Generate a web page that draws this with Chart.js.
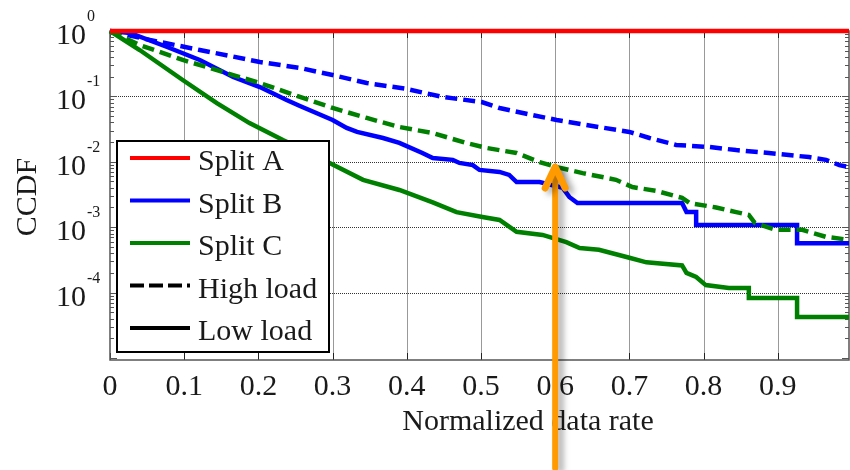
<!DOCTYPE html>
<html lang="en">
  <head>
    <meta charset="UTF-8" />
    <title>CCDF of normalized data rate</title>
    <style>
      body {
        margin: 0;
        background: #fff;
      }
      #grafico {
        display: block;
      }
    </style>
  </head>
  <body>
    <canvas id="grafico" width="850" height="470"></canvas>

    <script src="https://cdn.jsdelivr.net/npm/chart.js"></script>
    <script>
      // axis ticks
      const xTicks = [0, 0.1, 0.2, 0.3, 0.4, 0.5, 0.6, 0.7, 0.8, 0.9];
      const xTickLabels = ["0", "0.1", "0.2", "0.3", "0.4", "0.5", "0.6", "0.7", "0.8", "0.9"];
      const yExponents = [0, -1, -2, -3, -4];

      // Split A (both loads sit at 1)
      const splitAX = [0, 0.996];
      const splitAY = [1, 1];

      // Split B, high load (dashed)
      const splitBHighX = [0, 0.054, 0.121, 0.202, 0.256, 0.3, 0.346, 0.4, 0.448, 0.501, 0.525, 0.569, 0.602, 0.659, 0.7, 0.727, 0.763, 0.808, 0.844, 0.888, 0.942, 0.965, 0.983, 0.996];
      const splitBHighY = [1, 0.728, 0.513, 0.336, 0.272, 0.212, 0.16, 0.13, 0.098, 0.082, 0.0665, 0.052, 0.0436, 0.034, 0.0286, 0.0231, 0.0181, 0.0168, 0.0151, 0.0136, 0.0118, 0.0107, 0.0089, 0.0083];

      // Split B, low load (solid)
      const splitBLowX = [0, 0.027, 0.077, 0.121, 0.166, 0.202, 0.238, 0.256, 0.3, 0.319, 0.333, 0.368, 0.39, 0.421, 0.435, 0.462, 0.471, 0.489, 0.498, 0.525, 0.538, 0.548, 0.579, 0.61, 0.619, 0.63, 0.771, 0.777, 0.79, 0.79, 0.926, 0.926, 0.996];
      const splitBLowY = [1, 0.933, 0.569, 0.361, 0.198, 0.139, 0.088, 0.0713, 0.0436, 0.0329, 0.0286, 0.0231, 0.0194, 0.0136, 0.0114, 0.0107, 0.0096, 0.0089, 0.0075, 0.007, 0.0063, 0.0049, 0.0049, 0.004, 0.0029, 0.00234, 0.00234, 0.0017, 0.0017, 0.00108, 0.00108, 0.00057, 0.00057];

      // Split C, high load (dashed)
      const splitCHighX = [0, 0.04, 0.098, 0.166, 0.202, 0.256, 0.3, 0.346, 0.39, 0.435, 0.48, 0.507, 0.548, 0.579, 0.602, 0.637, 0.682, 0.704, 0.736, 0.771, 0.781, 0.817, 0.844, 0.861, 0.869, 0.897, 0.933, 0.965, 0.996];
      const splitCHighY = [1, 0.611, 0.361, 0.212, 0.16, 0.098, 0.0665, 0.0468, 0.034, 0.0275, 0.0194, 0.0163, 0.0136, 0.0099, 0.0083, 0.0067, 0.0053, 0.0041, 0.0036, 0.0028, 0.00234, 0.002, 0.0017, 0.00154, 0.00116, 0.00091, 0.00091, 0.00071, 0.00064];

      // Split C, low load (solid)
      const splitCLowX = [0, 0.04, 0.098, 0.144, 0.188, 0.233, 0.256, 0.296, 0.341, 0.39, 0.435, 0.467, 0.502, 0.525, 0.548, 0.583, 0.615, 0.633, 0.659, 0.7, 0.723, 0.771, 0.777, 0.79, 0.803, 0.834, 0.861, 0.861, 0.926, 0.926, 0.996];
      const splitCLowY = [1, 0.512, 0.178, 0.079, 0.039, 0.0215, 0.0163, 0.0096, 0.0053, 0.0037, 0.0024, 0.0017, 0.00143, 0.00129, 0.00085, 0.00076, 0.00059, 0.00048, 0.00045, 0.00034, 0.00029, 0.00026, 0.0002, 0.000173, 0.00013, 0.000117, 0.000117, 0.0000826, 0.0000826, 0.0000424, 0.0000424];

      // legend
      const legendLabels = ["Split A", "Split B", "Split C", "High load", "Low load"];
      const legendColors = ["#ff0000", "#0000ff", "#008000", "#000000", "#000000"];
      const legendDashed = [false, false, false, true, false];

      // arrow annotation (points at x = 0.6 on the Split C high load curve)
      const arrowX = 0.6;
      const arrowTipY = 0.0086;

      const serif = '"Liberation Serif", "DejaVu Serif", serif';

      function puntos(xs, ys) {
        return xs.map((v, i) => ({ x: v, y: ys[i] }));
      }

      function serie(label, xs, ys, color, dashed) {
        return {
          label: label,
          data: puntos(xs, ys),
          borderColor: color,
          borderWidth: 4.5,
          borderDash: dashed ? [12, 6] : [],
          pointRadius: 0,
          tension: 0,
          fill: false,
          clip: false,
        };
      }

      const decoracion = {
        id: "decoracion",
        beforeDatasetsDraw(chart) {
          const { ctx, chartArea: a, scales } = chart;
          const x = scales.x;
          const y = scales.y;
          ctx.save();

          // vertical grid
          ctx.strokeStyle = "#999";
          ctx.lineWidth = 1;
          xTicks.forEach((v) => {
            if (v === 0) return;
            const px = Math.round(x.getPixelForValue(v)) + 0.5;
            ctx.beginPath();
            ctx.moveTo(px, a.top);
            ctx.lineTo(px, a.bottom);
            ctx.stroke();
          });

          // horizontal decade grid (dotted)
          ctx.strokeStyle = "#333";
          ctx.setLineDash([1, 1]);
          yExponents.forEach((e) => {
            const py = Math.round(y.getPixelForValue(Math.pow(10, e))) + 0.5;
            ctx.beginPath();
            ctx.moveTo(a.left, py);
            ctx.lineTo(a.right, py);
            ctx.stroke();
          });
          ctx.setLineDash([]);

          // ticks on the x axis (top and bottom)
          ctx.strokeStyle = "#222";
          xTicks.forEach((v) => {
            const px = Math.round(x.getPixelForValue(v)) + 0.5;
            ctx.beginPath();
            ctx.moveTo(px, a.bottom);
            ctx.lineTo(px, a.bottom - 7);
            ctx.moveTo(px, a.top);
            ctx.lineTo(px, a.top + 7);
            ctx.stroke();
          });

          // minor and major ticks on the y axis (left and right)
          ctx.strokeStyle = "#555";
          for (let e = 0; e >= -5; e--) {
            for (let m = 1; m <= 9; m++) {
              const v = m * Math.pow(10, e);
              if (v > 1 || v < y.min) continue;
              const py = Math.round(y.getPixelForValue(v)) + 0.5;
              const len = m === 1 ? 7 : 4;
              ctx.beginPath();
              ctx.moveTo(a.left, py);
              ctx.lineTo(a.left + len, py);
              ctx.moveTo(a.right, py);
              ctx.lineTo(a.right - len, py);
              ctx.stroke();
            }
          }

          // frame
          ctx.strokeStyle = "#555";
          ctx.lineWidth = 1.5;
          ctx.strokeRect(a.left, a.top, a.right - a.left, a.bottom - a.top);
          ctx.restore();
        },
        afterDraw(chart) {
          const { ctx, chartArea: a, scales } = chart;
          const x = scales.x;
          const y = scales.y;
          ctx.save();
          ctx.fillStyle = "#1a1a1a";

          // y tick labels 10^e
          yExponents.forEach((e) => {
            const py = y.getPixelForValue(Math.pow(10, e));
            ctx.font = "30px " + serif;
            ctx.textAlign = "right";
            ctx.textBaseline = "alphabetic";
            ctx.fillText("10", 86, py + 13);
            ctx.font = "16px " + serif;
            ctx.textAlign = "left";
            ctx.fillText(String(e), 87, py - 10);
          });

          // x tick labels
          ctx.font = "30px " + serif;
          ctx.textAlign = "center";
          xTicks.forEach((v, i) => {
            ctx.fillText(xTickLabels[i], x.getPixelForValue(v), 395);
          });

          // axis titles
          ctx.fillText("Normalized data rate", 528, 430);
          ctx.save();
          ctx.translate(28, 197);
          ctx.rotate(-Math.PI / 2);
          ctx.textBaseline = "middle";
          ctx.fillText("CCDF", 0, 0);
          ctx.restore();

          // legend
          ctx.fillStyle = "#fff";
          ctx.fillRect(117, 141, 212, 211);
          ctx.strokeStyle = "#000";
          ctx.lineWidth = 2;
          ctx.strokeRect(117, 141, 212, 211);
          legendLabels.forEach((t, i) => {
            const ry = 158 + i * 42.5;
            ctx.strokeStyle = legendColors[i];
            ctx.lineWidth = 4;
            ctx.setLineDash(legendDashed[i] ? [14, 5] : []);
            ctx.beginPath();
            ctx.moveTo(130, ry);
            ctx.lineTo(190, ry);
            ctx.stroke();
            ctx.setLineDash([]);
            ctx.fillStyle = "#1a1a1a";
            ctx.font = "30px " + serif;
            ctx.textAlign = "left";
            ctx.fillText(t, 198, ry + 12);
          });

          // orange arrow
          const ax = x.getPixelForValue(arrowX);
          const ay = y.getPixelForValue(arrowTipY);
          ctx.shadowColor = "rgba(0,0,0,0.35)";
          ctx.shadowBlur = 6;
          ctx.shadowOffsetX = 5;
          ctx.shadowOffsetY = 3;
          ctx.strokeStyle = "#ff9a00";
          ctx.lineCap = "round";
          ctx.lineJoin = "round";
          ctx.lineWidth = 6;
          ctx.beginPath();
          ctx.moveTo(ax, 468);
          ctx.lineTo(ax, ay + 2);
          ctx.stroke();
          ctx.lineWidth = 7;
          ctx.beginPath();
          ctx.moveTo(ax - 10, ay + 22);
          ctx.lineTo(ax, ay + 1);
          ctx.lineTo(ax + 10, ay + 22);
          ctx.stroke();
          ctx.restore();
        },
      };

      const contexto = document.getElementById("grafico").getContext("2d");
      const grafico = new Chart(contexto, {
        type: "line",
        data: {
          datasets: [
            serie("Split A", splitAX, splitAY, "#ff0000", false),
            serie("Split C high load", splitCHighX, splitCHighY, "#008000", true),
            serie("Split C low load", splitCLowX, splitCLowY, "#008000", false),
            serie("Split B high load", splitBHighX, splitBHighY, "#0000ff", true),
            serie("Split B low load", splitBLowX, splitBLowY, "#0000ff", false),
          ],
        },
        options: {
          responsive: false,
          animation: false,
          layout: { padding: { left: 110, top: 31, right: 1, bottom: 110 } },
          scales: {
            x: { type: "linear", display: false, min: 0, max: 0.996 },
            y: { type: "logarithmic", display: false, min: 9.3e-6, max: 1 },
          },
          plugins: {
            legend: { display: false },
            tooltip: { enabled: false },
          },
        },
        plugins: [decoracion],
      });
    </script>
  </body>
</html>
